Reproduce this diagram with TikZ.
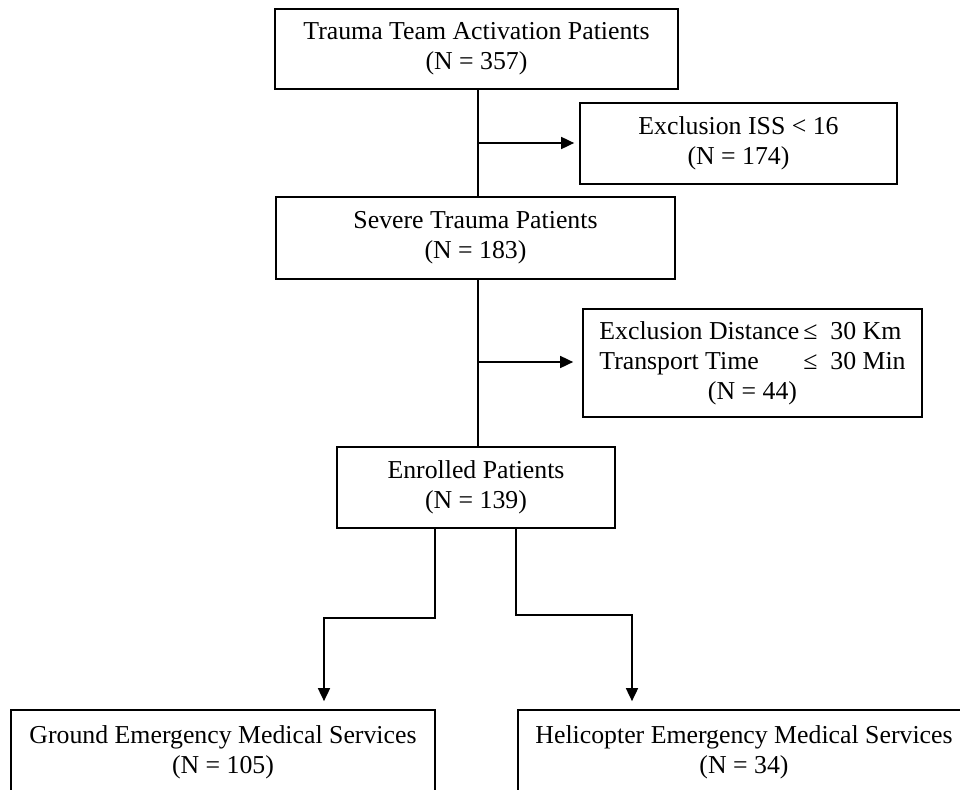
\documentclass[tikz,border=0pt]{standalone}
\usepackage{fontspec}
\setmainfont{Liberation Serif}
\usetikzlibrary{arrows.meta}
\begin{document}
\begin{tikzpicture}[x=1pt,y=-1pt,
  box/.style={draw=black, line width=1.7pt, fill=white, inner sep=0pt, align=center,
    font=\fontsize{25.8}{30}\selectfont},
  link/.style={draw=black, line width=1.7pt},
  arr/.style={link, -{Triangle[length=13pt,width=12pt]}}]
\useasboundingbox (0,0) rectangle (960,789);
\clip (0,0) rectangle (960,789);
\fill[white] (0,0) rectangle (960,789);
% boxes
\node[box, minimum width=403pt, minimum height=80pt] (b1) at (476.5,49)
  {Trauma Team Activation Patients\\(N = 357)};
\node[box, minimum width=317pt, minimum height=81pt] (b2) at (738.5,143.5)
  {Exclusion ISS < 16\\(N = 174)};
\node[box, minimum width=399pt, minimum height=82pt] (b3) at (475.5,238)
  {Severe Trauma Patients\\(N = 183)};
\node[box, minimum width=339pt, minimum height=108pt] (b4) at (752.5,363)
  {\begin{tabular}{@{}l@{\hspace{4pt}}l@{}}
   Exclusion Distance & ≤\ \ 30 Km\\
   Transport Time & ≤\ \ 30 Min\\
   \multicolumn{2}{c}{(N = 44)}
   \end{tabular}};
\node[box, minimum width=278pt, minimum height=81pt] (b5) at (476,487.5)
  {Enrolled Patients\\(N = 139)};
\node[box, minimum width=424pt, minimum height=84pt] (b6) at (223,752)
  {Ground Emergency Medical Services\\(N = 105)};
\node[box, minimum width=452pt, minimum height=84pt] (b7) at (744,752)
  {Helicopter Emergency Medical Services\\(N = 34)};
% spine
\coordinate (sp) at (478,0);
\draw[link] (b1.south -| sp) -- (b3.north -| sp);
\draw[link] (b3.south -| sp) -- (b5.north -| sp);
\coordinate (e1) at (478,143);
\coordinate (e2) at (478,362);
\draw[arr, shorten >=5pt] (e1) -- (e1 -| b2.west);
\draw[arr, shorten >=9pt] (e2) -- (e2 -| b4.west);
% branches
\coordinate (l1) at (435,618);
\coordinate (l2) at (324,618);
\coordinate (r1) at (516,615);
\coordinate (r2) at (632,615);
\draw[arr, shorten >=8pt] (b5.south -| l1) -- (l1) -- (l2) -- (l2 |- b6.north);
\draw[arr, shorten >=8pt] (b5.south -| r1) -- (r1) -- (r2) -- (r2 |- b7.north);
\end{tikzpicture}
\end{document}
